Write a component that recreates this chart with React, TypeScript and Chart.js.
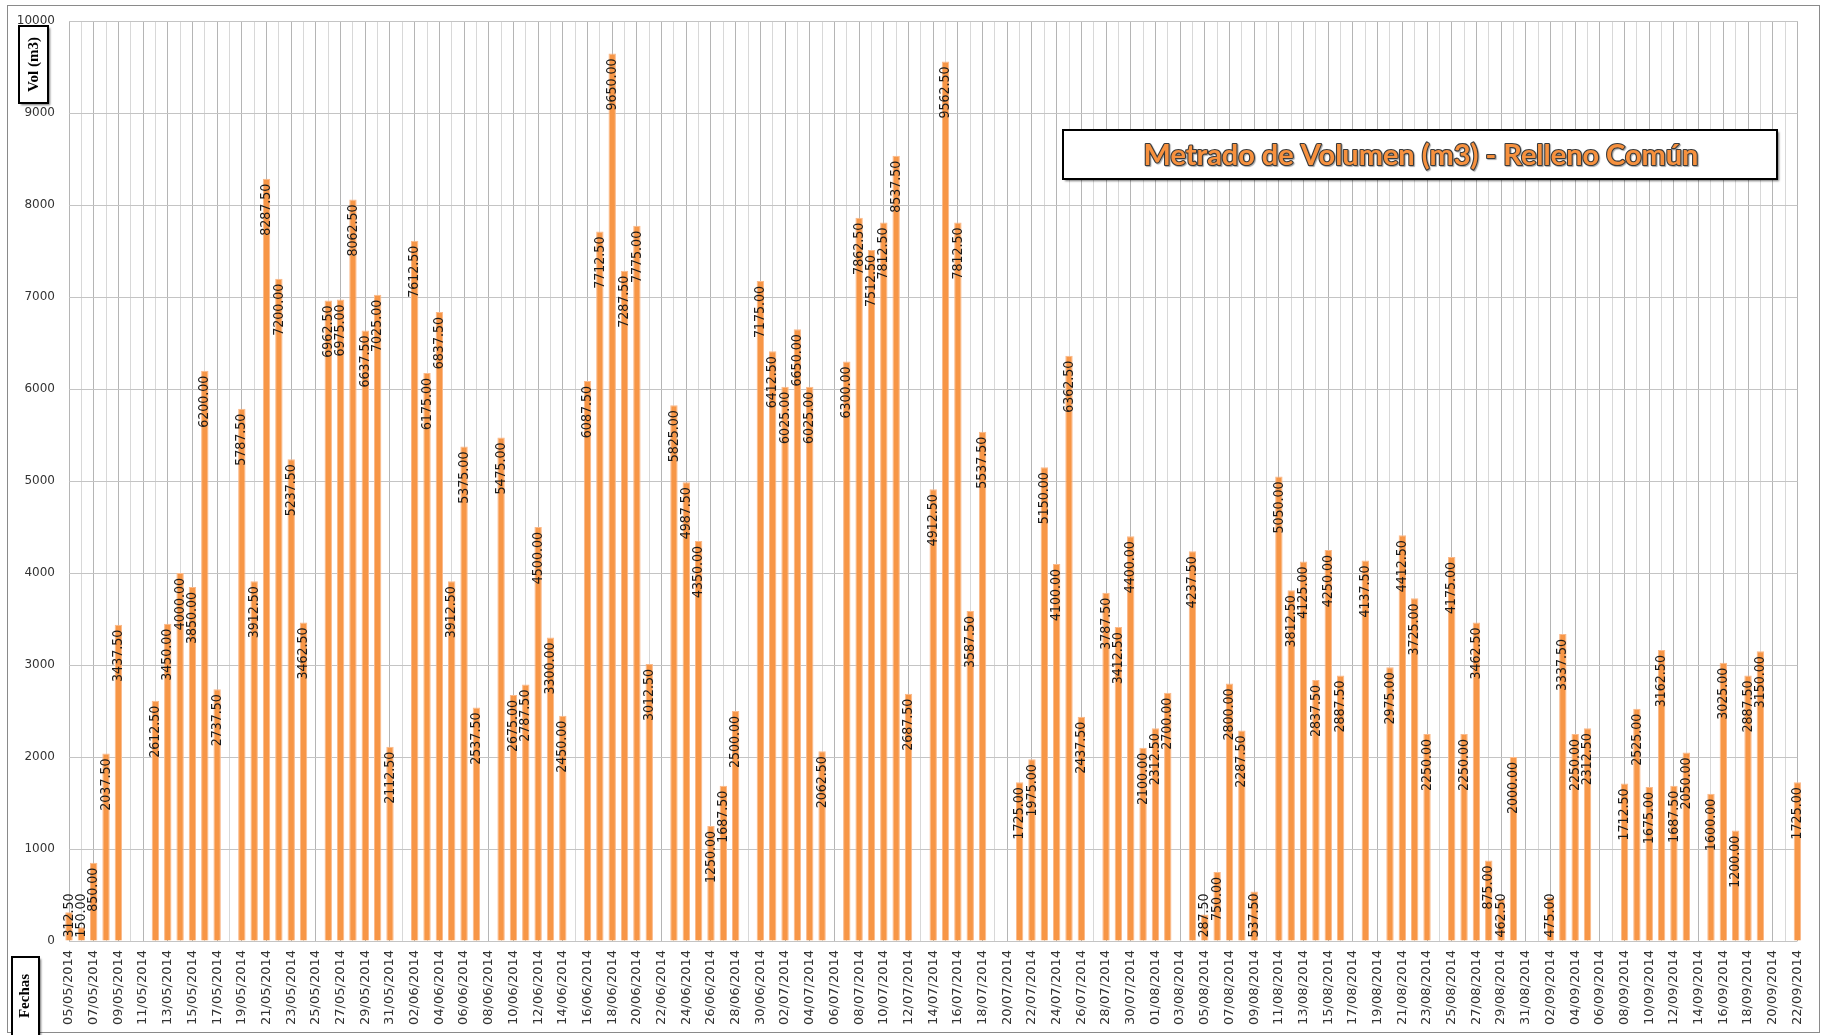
import React, { useEffect, useRef } from "react";
import { Chart, registerables } from "chart.js";

Chart.register(...registerables);

const TITLE = "Metrado de Volumen (m3) - Relleno Común";
const Y_TITLE = "Vol (m3)";
const X_TITLE = "Fechas";
const YEAR = "2014";
const MONTHS = ["05", "06", "07", "08", "09"];
const MONTH_FIRST_DAY = [5, 1, 1, 1, 1];

// daily volumes (m3), null = no work that day
const mayValues = [
  312.5, 150, 850, 2037.5, 3437.5, null, null, 2612.5, 3450, 4000, 3850, 6200, 2737.5, null,
  5787.5, 3912.5, 8287.5, 7200, 5237.5, 3462.5, null, 6962.5, 6975, 8062.5, 6637.5, 7025, 2112.5,
];
const juneValues = [
  null, 7612.5, 6175, 6837.5, 3912.5, 5375, 2537.5, null, 5475, 2675, 2787.5, 4500, 3300, 2450,
  null, 6087.5, 7712.5, 9650, 7287.5, 7775, 3012.5, null, 5825, 4987.5, 4350, 1250, 1687.5, 2500,
  null, 7175,
];
const julyValues = [
  6412.5, 6025, 6650, 6025, 2062.5, null, 6300, 7862.5, 7512.5, 7812.5, 8537.5, 2687.5, null,
  4912.5, 9562.5, 7812.5, 3587.5, 5537.5, null, null, 1725, 1975, 5150, 4100, 6362.5, 2437.5,
  null, 3787.5, 3412.5, 4400, 2100,
];
const augustValues = [
  2312.5, 2700, null, 4237.5, 287.5, 750, 2800, 2287.5, 537.5, null, 5050, 3812.5, 4125, 2837.5,
  4250, 2887.5, null, 4137.5, null, 2975, 4412.5, 3725, 2250, null, 4175, 2250, 3462.5, 875,
  462.5, 2000, null,
];
const septemberValues = [
  null, 475, 3337.5, 2250, 2312.5, null, null, 1712.5, 2525, 1675, 3162.5, 1687.5, 2050, null,
  1600, 3025, 1200, 2887.5, 3150, null, null, 1725,
];
const monthValues = [mayValues, juneValues, julyValues, augustValues, septemberValues];

const Y_MIN = 0;
const Y_MAX = 10000;
const Y_STEP = 1000;

const categories: string[] = [];
const values: (number | null)[] = [];
monthValues.forEach((arr, m) => {
  arr.forEach((v, i) => {
    const d = MONTH_FIRST_DAY[m] + i;
    categories.push(`${String(d).padStart(2, "0")}/${MONTHS[m]}/${YEAR}`);
    values.push(v);
  });
});

const W = 1822;
const H = 1035;
const BAR_COLOR = "#F79646";
const LABEL_FONT = "14px 'DejaVu Sans Condensed', 'Liberation Sans Narrow', sans-serif";

const decorPlugin = {
  id: "decor",
  beforeDraw(chart: any) {
    const ctx = chart.ctx;
    ctx.save();
    ctx.fillStyle = "#ffffff";
    ctx.fillRect(0, 0, chart.width, chart.height);
    ctx.restore();
  },
  afterDatasetsDraw(chart: any) {
    const ctx = chart.ctx;
    const meta = chart.getDatasetMeta(0);
    ctx.save();
    ctx.font = LABEL_FONT;
    ctx.fillStyle = "#1a1a1a";
    meta.data.forEach((el: any, i: number) => {
      const v = values[i];
      if (v == null) return;
      const p = el.getProps(["x", "y", "base"], true);
      const txt = v.toFixed(2);
      const w = ctx.measureText(txt).width;
      let anchor = p.y + 5;
      if (anchor + w > p.base - 3) anchor = p.base - 3 - w;
      ctx.save();
      ctx.translate(p.x, anchor);
      ctx.rotate(-Math.PI / 2);
      ctx.textAlign = "right";
      ctx.textBaseline = "middle";
      ctx.fillText(txt, 0, 0);
      ctx.restore();
    });
    ctx.restore();
  },
  afterDraw(chart: any) {
    const ctx = chart.ctx;
    ctx.save();
    // outer frame
    ctx.strokeStyle = "#8a8a8a";
    ctx.lineWidth = 1;
    ctx.strokeRect(7.5, 5.5, 1812, 1027);

    const box = (x: number, y: number, w: number, h: number) => {
      ctx.save();
      ctx.shadowColor = "rgba(0,0,0,0.55)";
      ctx.shadowOffsetX = 2;
      ctx.shadowOffsetY = 2;
      ctx.shadowBlur = 2;
      ctx.fillStyle = "#ffffff";
      ctx.fillRect(x, y, w, h);
      ctx.restore();
      ctx.strokeStyle = "#000000";
      ctx.lineWidth = 2;
      ctx.strokeRect(x, y, w, h);
    };

    // title
    box(1063, 130, 714, 49);
    ctx.save();
    let size = 100;
    ctx.font = `bold ${size}px Lato, 'Open Sans', sans-serif`;
    const tw = ctx.measureText(TITLE).width;
    size = (size * 555) / tw;
    ctx.font = `bold ${size}px Lato, 'Open Sans', sans-serif`;
    ctx.textAlign = "center";
    ctx.textBaseline = "middle";
    ctx.lineJoin = "round";
    ctx.shadowColor = "rgba(0,0,0,0.35)";
    ctx.shadowOffsetX = 1;
    ctx.shadowOffsetY = 1;
    ctx.shadowBlur = 1;
    ctx.strokeStyle = "#3a3a3a";
    ctx.lineWidth = 2.2;
    ctx.strokeText(TITLE, 1421, 156);
    ctx.shadowColor = "transparent";
    ctx.fillStyle = "#F7913E";
    ctx.fillText(TITLE, 1421, 156);
    ctx.restore();

    // y axis title
    box(19, 26, 29, 77);
    ctx.save();
    ctx.font = "bold 15px 'Liberation Serif', 'DejaVu Serif', serif";
    ctx.fillStyle = "#000";
    ctx.translate(34, 64.5);
    ctx.rotate(-Math.PI / 2);
    ctx.textAlign = "center";
    ctx.textBaseline = "middle";
    ctx.fillText(Y_TITLE, 0, 0);
    ctx.restore();

    // x axis title
    box(12, 957, 27, 90);
    ctx.save();
    ctx.font = "bold 15px 'Liberation Serif', 'DejaVu Serif', serif";
    ctx.fillStyle = "#000";
    ctx.translate(25.5, 996);
    ctx.rotate(-Math.PI / 2);
    ctx.textAlign = "center";
    ctx.textBaseline = "middle";
    ctx.fillText(X_TITLE, 0, 0);
    ctx.restore();

    ctx.restore();
  },
};

export default function App() {
  const ref = useRef<HTMLCanvasElement | null>(null);
  useEffect(() => {
    if (!ref.current) return;
    const chart = new Chart(ref.current, {
      type: "bar",
      data: {
        labels: categories,
        datasets: [
          {
            data: values as any,
            backgroundColor: BAR_COLOR,
            borderColor: "#FAB98A",
            borderWidth: 1,
            barPercentage: 0.6,
            categoryPercentage: 1,
            clip: false as any,
          },
        ],
      },
      options: {
        responsive: false,
        animation: false,
        devicePixelRatio: 1,
        layout: { padding: { top: 20, right: 8, left: 0, bottom: 0 } },
        plugins: { legend: { display: false }, tooltip: { enabled: false }, title: { display: false } },
        scales: {
          x: {
            offset: false,
            border: { display: false },
            grid: {
              offset: false,
              drawTicks: false,
              color: (c: any) => (c.index % 2 === 0 ? "#b5b5b5" : "#d8d8d8"),
              lineWidth: 1,
            },
            ticks: {
              autoSkip: false,
              minRotation: 90,
              maxRotation: 90,
              padding: 9,
              color: "#333333",
              font: { family: "'DejaVu Sans', sans-serif", size: 13 },
              callback: (_v: any, i: number) => (i % 2 === 0 ? categories[i] : ""),
            },
            afterFit: (s: any) => {
              s.height = 94;
            },
          },
          y: {
            min: Y_MIN,
            max: Y_MAX,
            border: { display: false },
            grid: { drawTicks: false, color: "#c4c4c4", lineWidth: 1 },
            ticks: {
              stepSize: Y_STEP,
              padding: 14,
              color: "#333333",
              font: { family: "'DejaVu Sans', sans-serif", size: 12 },
              callback: (v: any) => String(v),
            },
            afterFit: (s: any) => {
              s.width = 69;
            },
          },
        },
      },
      plugins: [decorPlugin],
    });
    return () => chart.destroy();
  }, []);
  return (
    <div style={{ position: "absolute", left: 0, top: 0, width: W, height: H }}>
      <canvas ref={ref} width={W} height={H} />
    </div>
  );
}
